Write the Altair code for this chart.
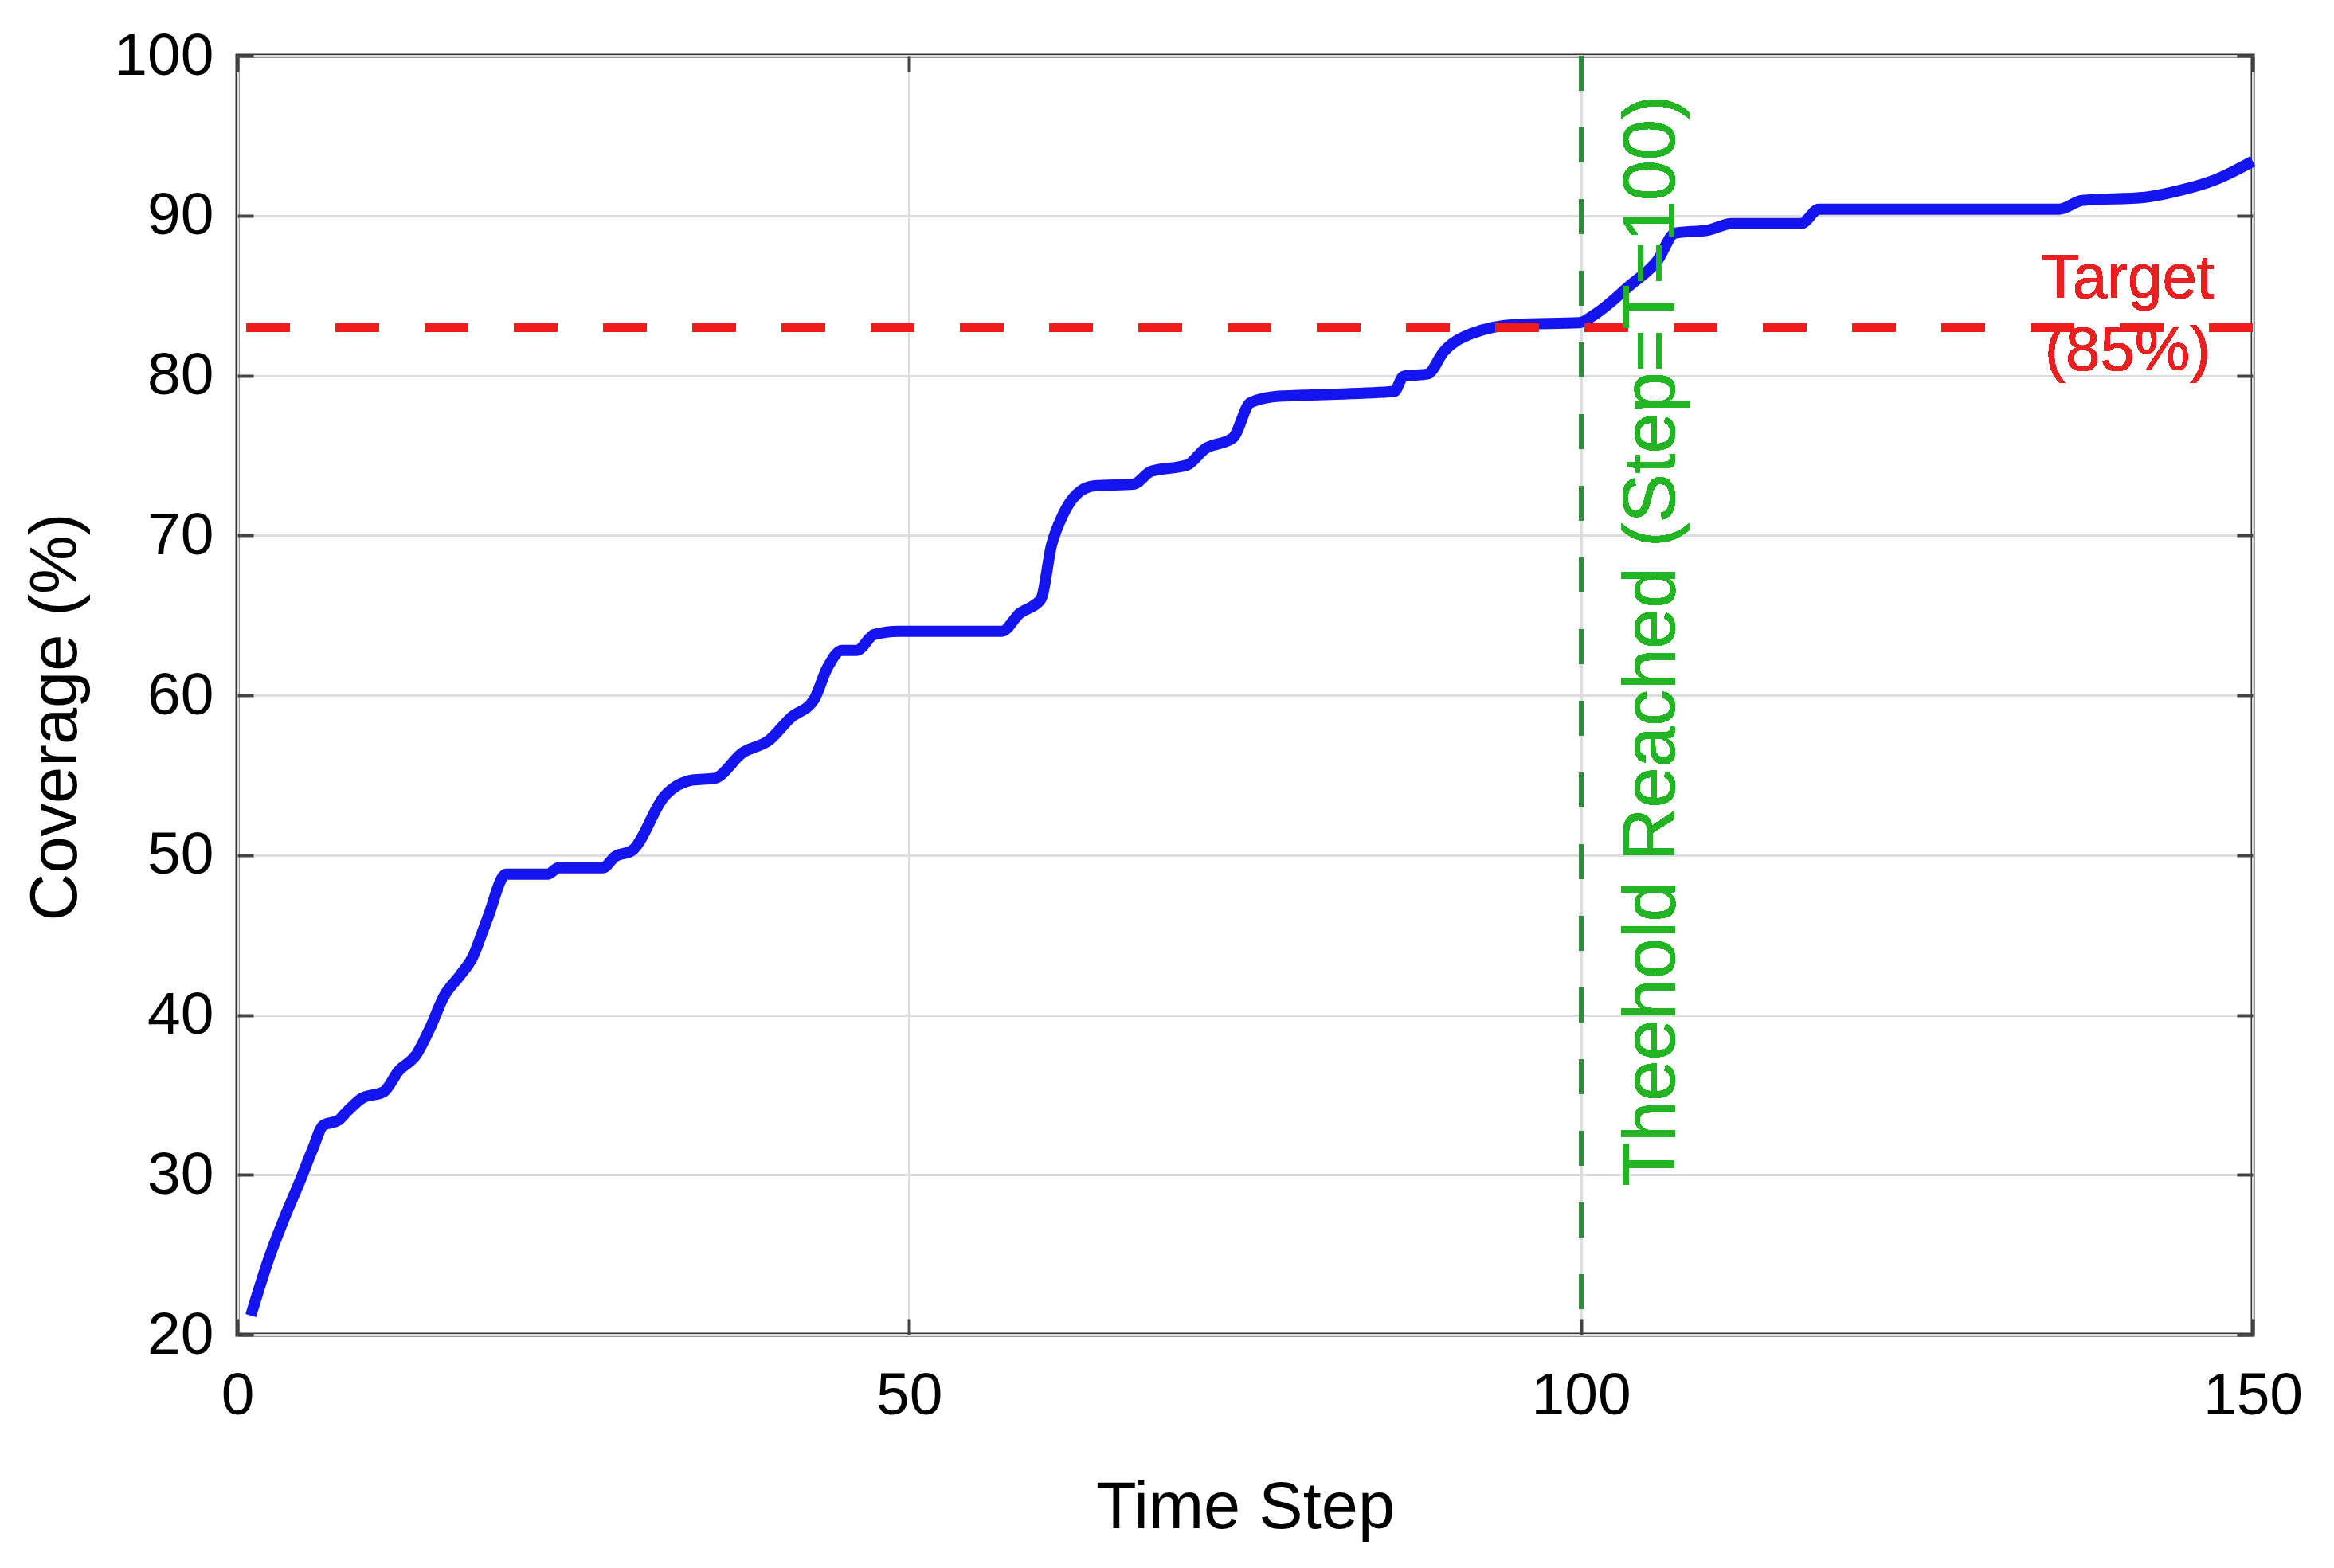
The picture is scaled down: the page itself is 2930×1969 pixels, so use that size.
import altair as alt
import pandas as pd

# Coverage curve
steps = [1, 2.4, 3.5, 4.7, 5.6, 6.4, 7.5, 8.2, 9.3, 10.9, 12.0, 13.3, 14.3, 15.4,
         16.5, 17.5, 18.6, 20.0, 23.1, 23.9, 27.2, 28.1, 29.4, 31.8, 33.9, 35.5,
         37.6, 39.6, 41.2, 42.9, 43.9, 45.0, 46.1, 47.4, 49.2, 56.9, 58.2, 59.8,
         60.6, 61.4, 62.5, 63.8, 66.7, 68.0, 70.7, 72.0, 74.1, 75.4, 77.5, 80.7,
         86.1, 86.8, 88.6, 89.8, 91.8, 95.3, 99.9, 101.0, 103.6, 105.7, 107.0,
         109.5, 111.2, 116.4, 117.7, 135.6, 137.3, 142.0, 144.2, 147.1, 150]
coverage = [21.2, 24.9, 27.3, 29.7, 31.6, 33.1, 33.4, 34.0, 34.8, 35.2, 36.5, 37.5,
            39.1, 41.2, 42.4, 43.6, 46.0, 48.8, 48.8, 49.2, 49.2, 49.9, 50.3, 53.7,
            54.7, 54.8, 56.4, 57.2, 58.6, 59.7, 61.7, 62.8, 62.8, 63.8, 64.0, 64.0,
            65.1, 66.0, 69.4, 71.2, 72.6, 73.1, 73.2, 74.0, 74.4, 75.4, 76.1, 78.3,
            78.7, 78.8, 79.0, 79.95, 80.1, 81.5, 82.6, 83.2, 83.3, 83.8, 85.6, 87.2,
            88.9, 89.1, 89.5, 89.5, 90.4, 90.4, 90.95, 91.15, 91.5, 92.2, 93.4]

x_ticks = [0, 50, 100, 150]
y_ticks = [20, 30, 40, 50, 60, 70, 80, 90, 100]
target_line = 83
threshold_step = 100
threshold_label = "Theehold Reached (Step=T=100)"
target_label = ["Target", "(85%)"]

df = pd.DataFrame({"step": steps, "coverage": coverage})

FONT = "Liberation Sans"
xs = alt.Scale(domain=[0, 150], nice=False, zero=False)
ys = alt.Scale(domain=[20, 100], nice=False, zero=False)

line = alt.Chart(df).mark_line(color="#1414ee", strokeWidth=14, interpolate="monotone").encode(
    x=alt.X("step:Q", scale=xs,
            axis=alt.Axis(title="Time Step", values=x_ticks, offset=-20, tickSize=20,
                          labelPadding=40, titlePadding=62, labelFlush=False,
                          domain=False, grid=True)),
    y=alt.Y("coverage:Q", scale=ys,
            axis=alt.Axis(title="Coverage (%)", values=y_ticks, offset=-20, tickSize=20,
                          labelPadding=30, titlePadding=30, labelFlush=False, titleY=830,
                          domain=False, grid=True)),
)

red_rule = alt.Chart(df).mark_rule(color="#f01c1c", strokeWidth=10, strokeDash=[55, 57],
                                   opacity=0.85).encode(
    y=alt.Y(datum=target_line, scale=ys)
)

green_rule = alt.Chart(df).mark_rule(color="#2e8b3c", strokeWidth=5, strokeDash=[44, 46]).encode(
    x=alt.X(datum=threshold_step, scale=xs)
)

green_text = alt.Chart(df).mark_text(text=threshold_label, angle=270, align="center",
                                     baseline="middle", fontSize=92, font=FONT,
                                     color="#22b422", opacity=0.9).encode(
    x=alt.X(datum=105.3, scale=xs),
    y=alt.Y(datum=63.4, scale=ys),
)

target_text = alt.Chart(df).mark_text(text=target_label, lineHeight=91, align="center",
                                      baseline="middle", fontSize=78, font=FONT,
                                      color="#e82020").encode(
    x=alt.X(datum=140.7, scale=xs),
    y=alt.Y(datum=86.0, scale=ys),
)

main = alt.layer(green_rule, line, red_rule, green_text, target_text)

ghost = alt.Chart(df).mark_point(opacity=0).encode(
    x=alt.X("step:Q", scale=xs,
            axis=alt.Axis(orient="top", title=None, values=x_ticks, offset=-20, tickSize=20,
                          labels=False, domain=False, grid=False)),
    y=alt.Y("coverage:Q", scale=ys,
            axis=alt.Axis(orient="right", title=None, values=y_ticks, offset=-20, tickSize=20,
                          labels=False, domain=False, grid=False)),
)

chart = alt.layer(main, ghost).resolve_axis(x="independent", y="independent").properties(
    width=2530, height=1606,
    autosize=alt.AutoSizeParams(type="none"),
    padding={"left": 290, "top": 62, "right": 80, "bottom": 260},
).configure(font=FONT).configure_view(
    stroke="#333333", strokeWidth=5
).configure_axis(
    labelFont=FONT, titleFont=FONT, labelFontSize=75, titleFontSize=83,
    titleFontWeight="normal", labelColor="#000000", titleColor="#000000",
    tickColor="#444444", tickWidth=4, gridColor="#dddddd", gridWidth=3,
)

chart.save("out.html", embed_options={"renderer": "svg", "actions": False})
